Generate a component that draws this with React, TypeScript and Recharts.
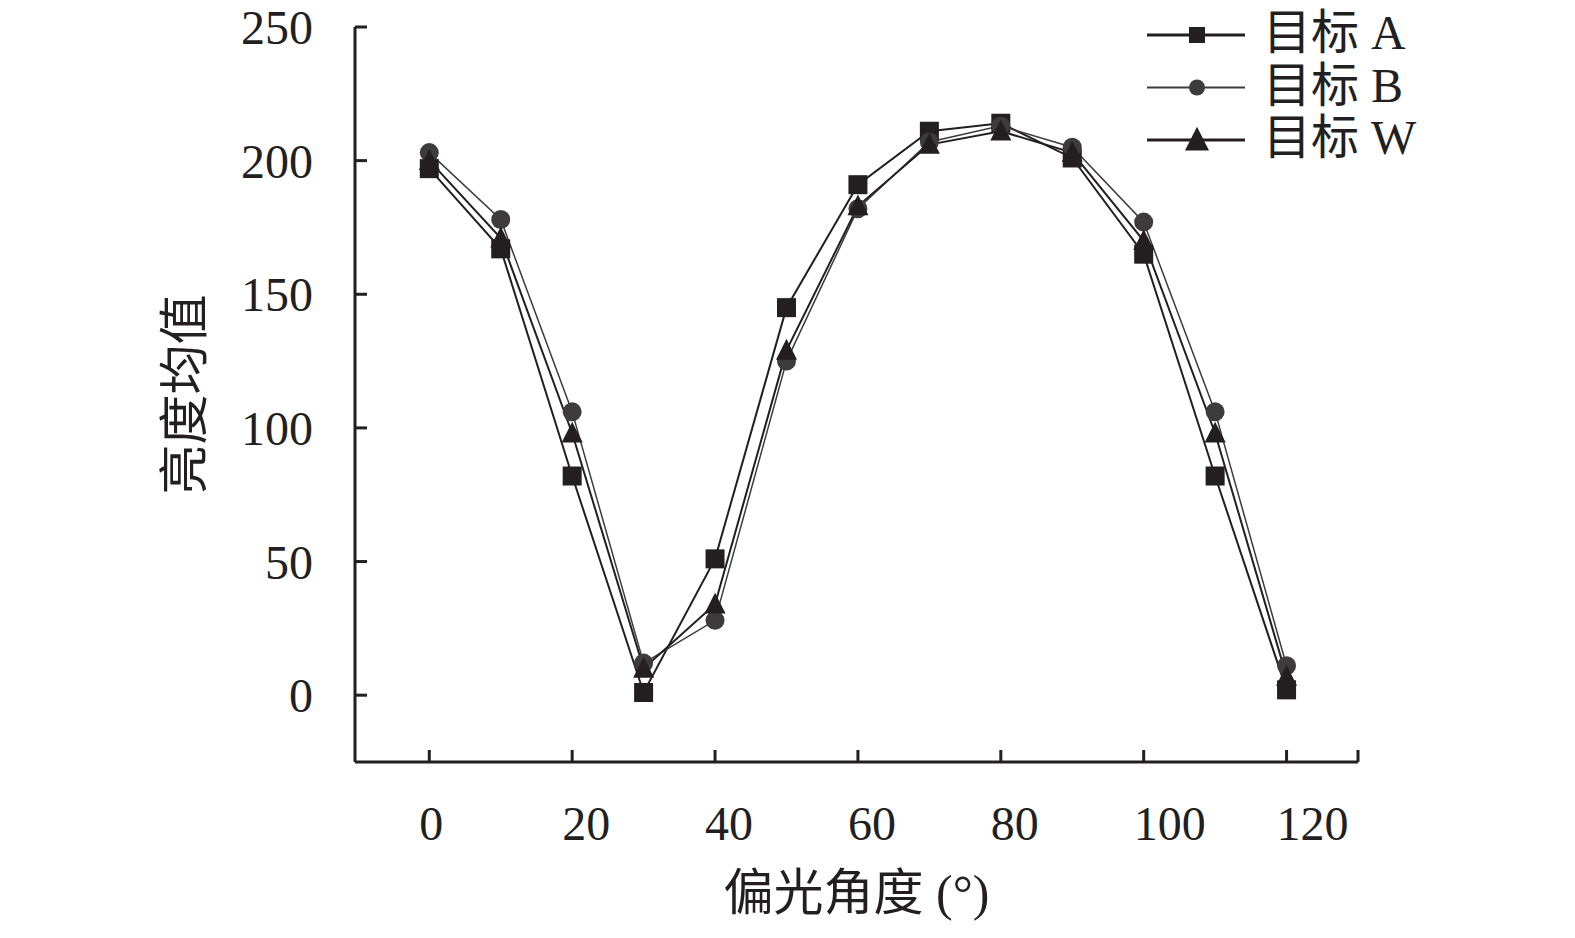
import { LineChart, Line, XAxis, YAxis, Legend, Label } from 'recharts'

const angles = [0, 10, 20, 30, 40, 50, 60, 70, 80, 90, 100, 110, 120]
const targetA = [197, 167, 82, 1, 51, 145, 191, 211, 214, 201, 165, 82, 2]
const targetB = [203, 178, 106, 12, 28, 125, 182, 207, 213, 205, 177, 106, 11]
const targetW = [200, 171, 98, 10, 34, 129, 183, 206, 211, 203, 170, 98, 7]

const xTicks = [0, 20, 40, 60, 80, 100, 120, 130]
const yTicks = [0, 50, 100, 150, 200, 250]

const series = [
  { key: 'A', name: '目标 A', shape: 'square', color: '#231f20', width: 2 },
  { key: 'B', name: '目标 B', shape: 'circle', color: '#3d3b3c', width: 1.5 },
  { key: 'W', name: '目标 W', shape: 'triangle', color: '#231f20', width: 2 }
]

const data = angles.map((angle, i) => ({ angle, A: targetA[i], B: targetB[i], W: targetW[i] }))

const INK = '#231f20'
const FONT = '"Liberation Serif", "Noto Sans CJK SC", serif'

const marker = (shape: string, cx: number, cy: number, s: number, color: string, key?: any) => {
  if (shape === 'square') {
    return <rect key={key} x={cx - s / 2} y={cy - s / 2} width={s} height={s} fill={color} />
  }
  if (shape === 'circle') {
    return <circle key={key} cx={cx} cy={cy} r={s / 2} fill={color} />
  }
  const h = s * 0.55
  return (
    <polygon
      key={key}
      points={`${cx},${cy - h} ${cx + s / 2},${cy + h * 0.8} ${cx - s / 2},${cy + h * 0.8}`}
      fill={color}
    />
  )
}

const XTick = ({ x, y, payload }: any) => (
  <g>
    <line x1={x} x2={x} y1={y} y2={y - 12} stroke={INK} strokeWidth={3} />
    {payload.value !== 130 && (
      <text x={x - 10} y={y + 78} textAnchor='start' fontSize={48} fontFamily={FONT} fill={INK}>
        {payload.value}
      </text>
    )}
  </g>
)

const YTick = ({ x, y, payload }: any) => (
  <g>
    <line x1={x} x2={x + 12} y1={y} y2={y} stroke={INK} strokeWidth={3} />
    <text x={x - 42} y={y + 17} textAnchor='end' fontSize={48} fontFamily={FONT} fill={INK}>
      {payload.value}
    </text>
  </g>
)

const LegendBox = ({ payload }: any) => (
  <svg width={300} height={170}>
    {(payload || []).map((entry: any, i: number) => {
      const s = series.find((item) => item.key === entry.dataKey) || series[i]
      const cy = 35 + i * 52.5
      return (
        <g key={s.key}>
          <line x1={7} x2={105} y1={cy} y2={cy} stroke={s.color} strokeWidth={s.shape === 'circle' ? 2 : 3} />
          {marker(s.shape, 57, cy, s.shape === 'triangle' ? 24 : 16, s.color)}
          <text x={123} y={cy + 14} fontSize={48} fontFamily={FONT} fill={INK}>
            {s.name}
          </text>
        </g>
      )
    })}
  </svg>
)

export default function App() {
  return (
    <div style={{ position: 'absolute', left: 0, top: 0, width: 1575, height: 938, background: '#fff' }}>
      <LineChart width={1575} height={938} data={data} margin={{ top: 27, right: 217, bottom: 76, left: 275 }}>
        <XAxis
          dataKey='angle'
          type='number'
          domain={[-10.4, 130]}
          ticks={xTicks}
          height={100}
          tickSize={0}
          tickMargin={0}
          tickLine={false}
          axisLine={{ stroke: INK, strokeWidth: 3 }}
          tick={<XTick />}
          interval={0}
        >
          <Label
            content={({ viewBox }: any) => (
              <text
                x={viewBox.x + viewBox.width / 2}
                y={viewBox.y + 131}
                textAnchor='middle'
                dominantBaseline='central'
                fontSize={50}
                fontFamily={FONT}
                fill={INK}
              >
                偏光角度 (°)
              </text>
            )}
          />
        </XAxis>
        <YAxis
          type='number'
          domain={[-25, 250]}
          ticks={yTicks}
          width={80}
          tickSize={0}
          tickMargin={0}
          tickLine={false}
          axisLine={{ stroke: INK, strokeWidth: 3 }}
          tick={<YTick />}
          interval={0}
        >
          <Label
            content={({ viewBox }: any) => {
              const cx = viewBox.x - 90
              const cy = viewBox.y + viewBox.height / 2
              return (
                <text
                  x={cx}
                  y={cy}
                  transform={`rotate(-90 ${cx} ${cy})`}
                  textAnchor='middle'
                  dominantBaseline='central'
                  fontSize={50}
                  fontFamily={FONT}
                  fill={INK}
                >
                  亮度均值
                </text>
              )
            }}
          />
        </YAxis>
        <Legend
          layout='horizontal'
          verticalAlign='middle'
          align='center'
          wrapperStyle={{ top: 0, left: 1140, width: 300, height: 170 }}
          content={<LegendBox />}
        />
        {series.map((s) => (
          <Line
            key={s.key}
            type='linear'
            dataKey={s.key}
            name={s.name}
            stroke={s.color}
            strokeWidth={s.width}
            isAnimationActive={false}
            activeDot={false}
            dot={(props: any) => marker(s.shape, props.cx, props.cy, s.shape === 'triangle' ? 21 : 19, s.color, `${s.key}-${props.index}`)}
          />
        ))}
      </LineChart>
    </div>
  )
}
